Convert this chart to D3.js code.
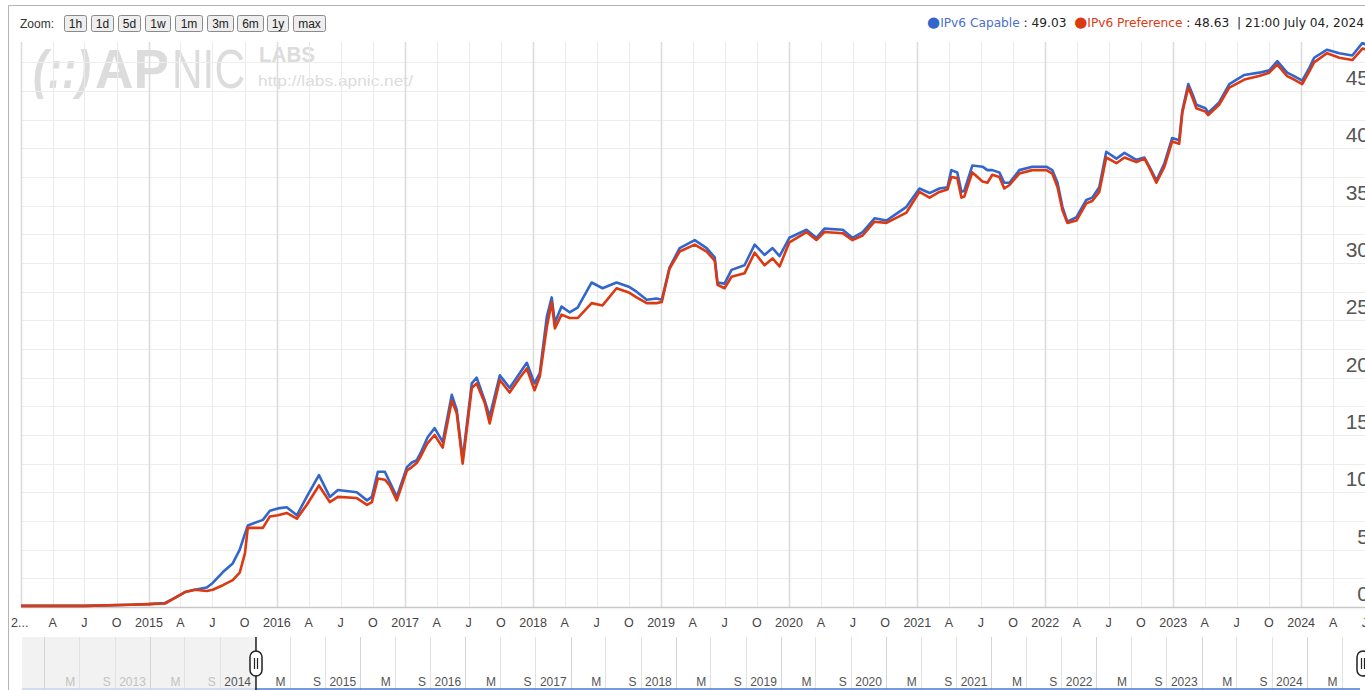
<!DOCTYPE html>
<html>
<head>
<meta charset="utf-8">
<script src="https://cdn.jsdelivr.net/npm/d3@7"></script>
<style>
  body { margin: 0; background: #fff; }
  svg { display: block; }
</style>
</head>
<body>
<div id="vis"></div>
<script>
const FRAME_WIDTH = 1365;
const FRAME_HEIGHT = 690;
const PLOT = {left: 21, right: 1366, top: 42, bottom: 607};
const NAV = {left: 22, right: 1360, top: 637, bottom: 690};

// series (percent)
const DATES = [
  "2014-01-01","2014-07-03","2014-11-08","2015-01-01","2015-02-16","2015-03-16","2015-04-14","2015-05-12",
  "2015-06-15","2015-07-02","2015-07-31","2015-08-28","2015-09-17","2015-10-02","2015-10-10","2015-11-22",
  "2015-12-12","2016-01-04","2016-01-29","2016-02-27","2016-03-26","2016-04-30","2016-05-31","2016-06-23",
  "2016-08-16","2016-09-14","2016-09-28","2016-10-15","2016-11-04","2016-11-18","2016-12-08","2017-01-06",
  "2017-01-20","2017-02-03","2017-02-12","2017-03-06","2017-03-26","2017-04-18","2017-05-14","2017-05-28",
  "2017-06-14","2017-07-10","2017-07-24","2017-08-16","2017-08-30","2017-09-28","2017-10-26","2017-11-24",
  "2017-12-14","2018-01-05","2018-01-20","2018-02-09","2018-02-23","2018-03-04","2018-03-23","2018-04-15",
  "2018-05-08","2018-06-17","2018-07-18","2018-08-27","2018-10-03","2018-10-23","2018-11-21","2018-12-19",
  "2019-01-03","2019-01-25","2019-02-23","2019-04-07","2019-05-11","2019-06-03","2019-06-11","2019-07-01",
  "2019-07-21","2019-08-27","2019-09-25","2019-10-23","2019-11-15","2019-12-05","2020-01-02","2020-02-20",
  "2020-03-19","2020-04-11","2020-06-02","2020-06-30","2020-07-29","2020-09-01","2020-10-05","2020-12-01",
  "2021-01-07","2021-02-05","2021-03-05","2021-03-28","2021-04-08","2021-04-25","2021-05-07","2021-05-15",
  "2021-06-07","2021-07-06","2021-07-20","2021-08-03","2021-08-23","2021-09-06","2021-09-21","2021-10-19",
  "2021-11-25","2022-01-04","2022-01-21","2022-02-05","2022-02-19","2022-03-05","2022-03-31","2022-04-28",
  "2022-05-15","2022-06-04","2022-06-24","2022-07-23","2022-08-15","2022-09-18","2022-10-11","2022-10-25",
  "2022-11-14","2022-12-07","2022-12-29","2023-01-18","2023-01-27","2023-02-13","2023-02-24","2023-03-08",
  "2023-04-03","2023-04-11","2023-05-12","2023-06-10","2023-07-23","2023-09-03","2023-10-02","2023-10-25",
  "2023-11-22","2023-12-12","2024-01-04","2024-01-24","2024-02-07","2024-03-15","2024-04-19","2024-05-26",
  "2024-06-24","2024-07-04"
];
const CAPABLE = [
  0.1,0.1,0.2,0.25,0.35,0.8,1.3,1.5,
  1.7,2.1,3.05,3.8,5.0,6.4,7.1,7.6,
  8.4,8.6,8.7,8.0,9.6,11.5,9.6,10.2,
  10.0,9.3,9.6,11.8,11.8,10.9,9.6,12.2,
  12.6,12.8,13.3,14.8,15.6,14.4,18.5,17.2,
  12.9,19.5,20.0,18.0,16.6,20.2,19.1,20.4,
  21.3,19.5,20.4,25.3,27.0,24.8,26.2,25.7,
  26.1,28.3,27.8,28.3,27.9,27.5,26.8,26.9,
  26.8,29.6,31.3,32.0,31.3,30.5,28.3,28.2,
  29.4,29.8,31.6,30.7,31.3,30.6,32.2,32.9,
  32.2,33.0,32.9,32.2,32.7,33.9,33.7,34.9,
  36.5,36.1,36.5,36.6,38.1,37.9,36.2,36.3,
  38.5,38.4,38.1,38.1,37.9,37.0,37.0,38.1,
  38.4,38.4,38.1,37.0,34.9,33.6,34.0,35.5,
  35.7,36.6,39.7,39.1,39.6,39.0,39.2,38.4,
  37.2,38.7,40.9,40.7,43.3,45.6,44.8,43.8,
  43.5,43.1,44.0,45.6,46.4,46.6,46.8,47.6,
  46.6,46.3,45.9,47.0,47.9,48.6,48.3,48.1,
  49.2,49.03
];
const PREFERENCE = [
  0.1,0.1,0.2,0.25,0.3,0.8,1.3,1.5,
  1.4,1.5,1.9,2.35,3.0,4.7,6.9,6.9,
  7.9,8.0,8.2,7.7,8.9,10.6,9.15,9.6,
  9.5,8.9,9.15,11.2,11.1,10.6,9.3,11.9,
  12.2,12.55,13.0,14.3,15.0,13.9,18.0,16.9,
  12.5,19.1,19.5,17.8,16.0,19.8,18.7,20.0,
  20.8,18.9,20.1,24.4,26.6,24.3,25.5,25.2,
  25.2,26.5,26.3,27.8,27.4,27.0,26.5,26.5,
  26.6,29.5,31.0,31.6,31.0,30.2,28.1,27.8,
  28.8,29.1,30.9,29.8,30.4,29.7,31.8,32.7,
  32.0,32.7,32.6,32.0,32.4,33.6,33.5,34.4,
  36.2,35.7,36.2,36.4,37.5,37.4,35.7,35.8,
  37.9,37.1,37.0,37.7,37.5,36.5,36.8,37.8,
  38.1,38.1,37.8,36.6,34.6,33.5,33.7,35.2,
  35.4,36.2,39.2,38.7,39.2,38.8,39.1,38.3,
  37.0,38.4,40.6,40.4,43.1,45.3,44.5,43.5,
  43.2,42.9,43.8,45.3,46.0,46.3,46.6,47.3,
  46.3,46.0,45.6,46.7,47.5,48.3,47.9,47.7,
  48.7,48.63
];

const ZOOM_BUTTONS = ["1h", "1d", "5d", "1w", "1m", "3m", "6m", "1y", "max"];
const Y_TICKS = [0, 5, 10, 15, 20, 25, 30, 35, 40, 45];
const QUARTER_LETTERS = {3: "A", 6: "J", 9: "O"};
const NAV_LETTERS = {4: "M", 8: "S"};
const LATEST_CAPABLE = "49.03";
const LATEST_PREFERENCE = "48.63";
const LATEST_STAMP = "21:00 July 04, 2024";

const BLUE = "#3366cc";
const RED = "#dc3912";

const parse = d3.timeParse("%Y-%m-%d");
const dates = DATES.map(parse);
const START = parse("2014-01-01");
const END = parse("2024-07-04");

const X_SCALE = d3.scaleTime().domain([START, END]).range([PLOT.left, PLOT.right]);
const Y_SCALE = d3.scaleLinear().domain([0, 45]).range([PLOT.bottom, 91]);
// navigator shows a longer span, same end
const NAV_X = d3.scaleTime().domain([START, END]).range([255, NAV.right]);

const svg = d3.select("#vis")
  .append("svg")
    .attr("width", FRAME_WIDTH)
    .attr("height", FRAME_HEIGHT)
    .style("font-family", "'Liberation Sans', Arial, sans-serif");

svg.append("rect").attr("width", FRAME_WIDTH).attr("height", FRAME_HEIGHT).attr("fill", "#fff");

// outer frame (top + left)
svg.append("path")
  .attr("d", "M8.5," + FRAME_HEIGHT + "V5.5H" + FRAME_WIDTH)
  .attr("fill", "none").attr("stroke", "#b4b4b4");

// ---- watermark (under the grid) ----
const wm = svg.append("g").attr("fill", "#dcdcdc");
wm.append("text").attr("x", 33).attr("y", 88)
  .attr("font-size", 54).attr("font-weight", "bold").attr("font-style", "italic")
  .attr("textLength", 58).attr("lengthAdjust", "spacingAndGlyphs")
  .text("(::)");
wm.append("text").attr("x", 95).attr("y", 88)
  .attr("font-size", 56).attr("font-weight", "bold")
  .attr("textLength", 74).attr("lengthAdjust", "spacingAndGlyphs")
  .text("AP");
wm.append("text").attr("x", 172).attr("y", 88)
  .attr("font-size", 56)
  .attr("textLength", 73).attr("lengthAdjust", "spacingAndGlyphs")
  .text("NIC");
wm.append("text").attr("x", 259).attr("y", 62)
  .attr("font-size", 22).attr("font-weight", "bold")
  .attr("textLength", 56).attr("lengthAdjust", "spacingAndGlyphs")
  .text("LABS");
wm.append("text").attr("x", 258).attr("y", 86)
  .attr("font-size", 14)
  .attr("textLength", 155).attr("lengthAdjust", "spacingAndGlyphs")
  .text("http://labs.apnic.net/");

// ---- grid ----
const grid = svg.append("g");
grid.selectAll(".hgrid")
  .data(d3.range(2.5, 49, 2.5))
  .enter().append("line")
    .attr("x1", PLOT.left).attr("x2", FRAME_WIDTH)
    .attr("y1", d => Math.round(Y_SCALE(d)) + 0.5)
    .attr("y2", d => Math.round(Y_SCALE(d)) + 0.5)
    .attr("stroke", "#ededed");

const quarterTicks = d3.timeMonth.every(3).range(START, d3.timeDay.offset(END, 1));
grid.selectAll(".vgrid")
  .data(quarterTicks)
  .enter().append("line")
    .attr("x1", d => Math.round(X_SCALE(d)) + 0.5)
    .attr("x2", d => Math.round(X_SCALE(d)) + 0.5)
    .attr("y1", PLOT.top).attr("y2", PLOT.bottom)
    .attr("stroke", d => d.getMonth() === 0 ? "#dcdcdc" : "#ebebeb")
    .attr("stroke-width", d => d.getMonth() === 0 ? 1.6 : 1);

// x baseline
svg.append("line")
  .attr("x1", PLOT.left).attr("x2", FRAME_WIDTH)
  .attr("y1", PLOT.bottom + 0.5).attr("y2", PLOT.bottom + 0.5)
  .attr("stroke", "#c8c8c8").attr("stroke-width", 1.5);

// ---- y labels (inside, right side, above their gridline) ----
svg.selectAll(".ylab")
  .data(Y_TICKS)
  .enter().append("text")
    .attr("x", 1369)
    .attr("y", d => Y_SCALE(d) - 6)
    .attr("text-anchor", "end")
    .attr("font-size", 21)
    .attr("fill", "#555")
    .text(d => d);

// ---- x labels ----
svg.selectAll(".xlab")
  .data(quarterTicks)
  .enter().append("text")
    .attr("x", (d, i) => i === 0 ? 11 : X_SCALE(d))
    .attr("y", 627)
    .attr("text-anchor", (d, i) => i === 0 ? "start" : "middle")
    .attr("font-size", 12.5)
    .attr("fill", "#444")
    .text((d, i) => i === 0 ? "2..." : (d.getMonth() === 0 ? d.getFullYear() : QUARTER_LETTERS[d.getMonth()]));

// ---- lines ----
svg.append("clipPath").attr("id", "plotclip")
  .append("rect")
    .attr("x", PLOT.left).attr("y", PLOT.top)
    .attr("width", FRAME_WIDTH - PLOT.left).attr("height", PLOT.bottom - PLOT.top + 2);

const lineOf = vals => d3.line()
  .x((d, i) => X_SCALE(dates[i]))
  .y(d => Y_SCALE(d))(vals);

const lines = svg.append("g").attr("clip-path", "url(#plotclip)");
lines.append("path")
  .attr("d", lineOf(CAPABLE))
  .attr("fill", "none").attr("stroke", BLUE)
  .attr("stroke-width", 2.6).attr("stroke-linejoin", "round");
lines.append("path")
  .attr("d", lineOf(PREFERENCE))
  .attr("fill", "none").attr("stroke", RED)
  .attr("stroke-width", 2.6).attr("stroke-linejoin", "round");

// ---- top bar: zoom buttons ----
svg.append("text")
  .attr("x", 20).attr("y", 28)
  .attr("font-size", 12).attr("fill", "#333")
  .text("Zoom:");

const BTN_X = [64, 91, 118, 145, 175, 207, 237, 267, 293];
const BTN_W = [22, 22, 22, 25, 27, 26, 26, 21, 32];
const btn = svg.selectAll(".btn")
  .data(ZOOM_BUTTONS)
  .enter().append("g")
    .attr("transform", (d, i) => "translate(" + BTN_X[i] + ",15)");
btn.append("rect")
  .attr("x", 0.5).attr("y", 0.5)
  .attr("width", (d, i) => BTN_W[i]).attr("height", 16)
  .attr("rx", 2)
  .attr("fill", "#eeeeee").attr("stroke", "#8a8a8a");
btn.append("text")
  .attr("x", (d, i) => BTN_W[i] / 2 + 0.5).attr("y", 13)
  .attr("text-anchor", "middle")
  .attr("font-size", 12).attr("fill", "#222")
  .text(d => d);

// ---- legend (right aligned) ----
const legend = svg.append("text")
  .attr("x", 1364).attr("y", 27)
  .attr("text-anchor", "end")
  .attr("font-family", "'DejaVu Sans', Verdana, sans-serif")
  .attr("font-size", 12.2);
legend.append("tspan").attr("fill", BLUE).attr("font-size", 15).text("\u25CF");
legend.append("tspan").attr("fill", "#4a6fcf").text("IPv6 Capable");
legend.append("tspan").attr("fill", "#222").text(" : " + LATEST_CAPABLE + "\u00A0\u00A0");
legend.append("tspan").attr("fill", RED).attr("font-size", 15).text("\u25CF");
legend.append("tspan").attr("fill", RED).text("IPv6 Preference");
legend.append("tspan").attr("fill", "#222").text(" : " + LATEST_PREFERENCE + "  \u00A0| " + LATEST_STAMP);

// ---- navigator ----
const nav = svg.append("g");
nav.append("rect")
  .attr("x", NAV.left).attr("y", NAV.top)
  .attr("width", NAV_X(START) - NAV.left).attr("height", NAV.bottom - NAV.top)
  .attr("fill", "#f2f2f2");

const navStart = NAV_X.invert(NAV.left);
const navTicks = d3.timeMonth.every(4).range(navStart, END);
nav.selectAll(".ngrid")
  .data(navTicks)
  .enter().append("line")
    .attr("x1", d => Math.round(NAV_X(d)) + 0.5)
    .attr("x2", d => Math.round(NAV_X(d)) + 0.5)
    .attr("y1", NAV.top).attr("y2", NAV.bottom)
    .attr("stroke", d => d.getMonth() === 0 ? "#d4d4d4" : "#e2e2e2");

// labels sit just left of their line; the ones that would spill out are dropped
nav.selectAll(".nlab")
  .data(navTicks.filter(d => NAV_X(d) - 34 > NAV.left))
  .enter().append("text")
    .attr("x", d => NAV_X(d) - 4)
    .attr("y", 686)
    .attr("text-anchor", "end")
    .attr("font-size", 12)
    .attr("fill", d => d < START ? "#c2c2c2" : "#555")
    .text(d => d.getMonth() === 0 ? d.getFullYear() : NAV_LETTERS[d.getMonth()]);

// mini series strip at the bottom of the navigator
nav.append("line")
  .attr("x1", NAV.left).attr("x2", NAV_X(START))
  .attr("y1", 689).attr("y2", 689)
  .attr("stroke", "#c9d3ea").attr("stroke-width", 1.5);
nav.append("line")
  .attr("x1", NAV_X(START)).attr("x2", NAV.right)
  .attr("y1", 689).attr("y2", 689)
  .attr("stroke", "#4a78cf").attr("stroke-width", 1.5);

// range handles
const handleX = [NAV_X(START) + 1, NAV_X(END) + 3];
nav.append("line")
  .attr("x1", handleX[0]).attr("x2", handleX[0])
  .attr("y1", NAV.top).attr("y2", NAV.bottom)
  .attr("stroke", "#222").attr("stroke-width", 1.5);
const handles = nav.selectAll(".handle")
  .data(handleX)
  .enter().append("g")
    .attr("transform", d => "translate(" + d + ",0)");
handles.append("rect")
  .attr("x", -6).attr("y", 651)
  .attr("width", 12).attr("height", 25)
  .attr("rx", 6)
  .attr("fill", "#fff").attr("stroke", "#222").attr("stroke-width", 1.5);
handles.append("path")
  .attr("d", "M-1.5,658V669M1.5,658V669")
  .attr("stroke", "#222").attr("stroke-width", 1.2);
</script>
</body>
</html>
